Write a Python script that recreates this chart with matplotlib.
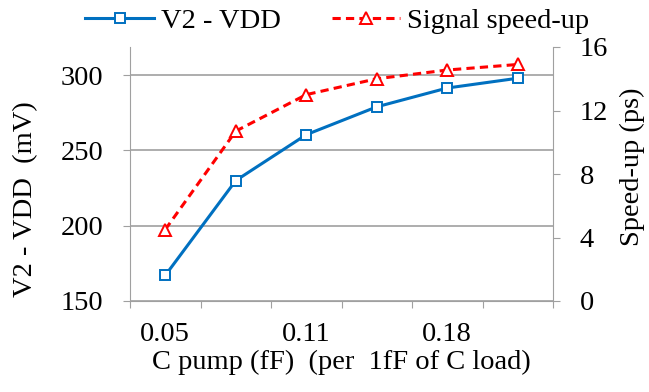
import matplotlib
matplotlib.use("Agg")
import matplotlib.pyplot as plt
import numpy as np

# data
c_pump = ["0.05", "", "0.11", "", "0.18", ""]
v2_vdd = [167, 230, 260.5, 279, 291.5, 298]
speed_up = [4.5, 10.7, 13.0, 14.0, 14.55, 14.9]

plt.rcParams["font.family"] = ["Liberation Serif", "DejaVu Serif"]
plt.rcParams["font.size"] = 20.5

blue = "#0070C0"
red = "#FF0000"
gray = "#A0A0A0"

fig = plt.figure(figsize=(6.49, 3.92), dpi=100)
ax = fig.add_axes([130 / 649, 1 - 301 / 392, 423 / 649, 254 / 392])
ax2 = ax.twinx()

x = np.arange(len(c_pump))
l1, = ax.plot(x, v2_vdd, color=blue, lw=2.2, marker="s", ms=6.5,
              mfc="white", mec=blue, mew=1.4, label="V2 - VDD", zorder=3)
l2, = ax2.plot(x, speed_up, color=red, lw=2.2, ls=(0, (2.7, 1.7)), marker="^", ms=8.5,
               mfc="white", mec=red, mew=1.4, label="Signal speed-up", zorder=3)

ax.set_xlim(-0.5, len(c_pump) - 0.5)
ax.set_ylim(150, 318.75)
ax2.set_ylim(0, 16)
ax.set_yticks([150, 200, 250, 300])
ax2.set_yticks([0, 4, 8, 12, 16])

# tick marks between categories, labels at category centres
ax.set_xticks(np.arange(-0.5, len(c_pump)), [])
ax.set_xticks(x, c_pump, minor=True)
ax.tick_params(axis="x", which="major", direction="out", length=5, color=gray)
ax.tick_params(axis="x", which="minor", length=0, pad=15)
ax.tick_params(axis="y", direction="out", length=5, color=gray, pad=14)
ax2.tick_params(axis="y", direction="out", length=5, color=gray, pad=14)

ax.grid(axis="y", color=gray, lw=1.2)
ax.set_axisbelow(True)
for a in (ax, ax2):
    for s in a.spines.values():
        s.set_visible(False)
        s.set_color(gray)
ax.spines["left"].set_visible(True)
ax.spines["bottom"].set_visible(True)
ax2.spines["right"].set_visible(True)

ax.set_xlabel("C pump (fF)  (per  1fF of C load)", labelpad=2)
ax.set_ylabel("V2 - VDD  (mV)", va="center")
ax.yaxis.set_label_coords(-0.246, 0.40)
ax2.set_ylabel("Speed-up (ps)", va="center")
ax2.yaxis.set_label_coords(1.187, 0.53)

fig.legend(handles=[l1, l2], loc="upper center", bbox_to_anchor=(0.52, 1.045),
           ncol=2, frameon=False, handlelength=2.4, columnspacing=1.8,
           handletextpad=0.25)

fig.savefig("out.png", dpi=100)
